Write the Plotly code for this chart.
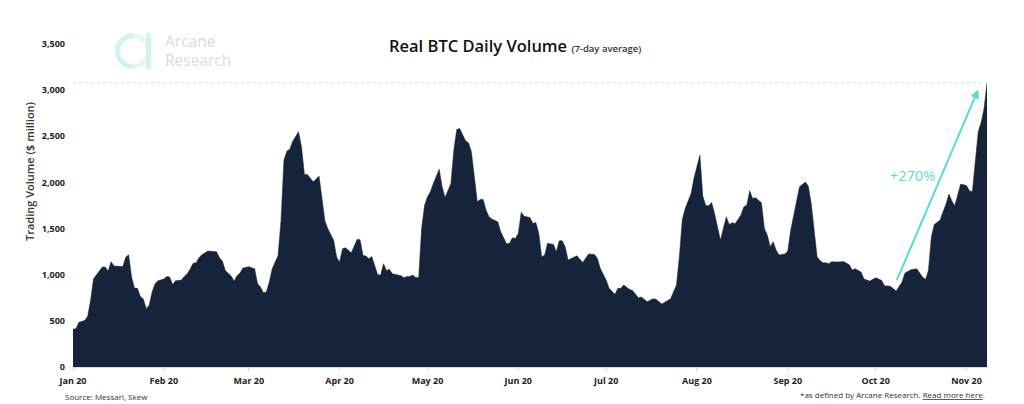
import pandas as pd
import plotly.graph_objects as go

# days since 1 Jan 2020 and volume, row by row
days = [0,1,2,4,5,6,7,8,9,10,
        11,12,13,14,16,17,18,19,20,21,
        22,23,24,25,26,27,28,29,31,32,
        33,34,35,37,38,39,40,41,42,43,
        44,46,49,50,51,52,54,55,56,57,
        58,60,62,63,64,65,66,67,68,70,
        71,72,73,74,75,77,78,79,80,82,
        84,85,86,87,89,90,91,92,93,95,
        97,98,99,100,101,102,103,104,105,106,
        107,108,109,111,112,113,114,115,116,117,
        118,119,120,121,122,123,125,126,127,129,
        130,131,132,134,135,136,137,138,139,140,
        141,142,143,145,146,148,149,150,151,152,
        153,154,156,157,158,159,160,161,162,164,
        165,166,167,168,169,170,172,174,176,178,
        179,180,182,183,185,186,187,188,190,191,
        193,194,196,198,199,201,202,204,205,206,
        207,208,209,210,211,212,214,215,216,217,
        218,219,221,223,224,225,226,227,228,229,
        230,231,232,233,235,236,237,238,239,240,
        241,243,244,245,247,248,250,251,252,253,
        254,255,256,257,258,259,261,263,265,266,
        267,269,270,272,274,276,277,279,281,283,
        284,286,288,290,291,292,293,294,296,297,
        298,299,300,301,303,305,306,307,308,309,
        310,311,312]
volume = [411,415,484,505,550,722,957,1004,1040,1083,
          1083,1040,1140,1094,1094,1090,1190,1216,975,855,
          852,765,736,632,668,812,902,935,953,982,
          975,895,935,942,982,1010,1061,1123,1130,1184,
          1216,1256,1250,1184,1148,1047,985,931,989,1018,
          1072,1087,1065,902,866,805,812,920,1065,1209,
          1588,2240,2339,2360,2447,2548,2386,2086,2086,2007,
          2068,1808,1581,1498,1372,1190,1137,1282,1292,1238,
          1383,1379,1209,1202,1173,1198,1101,1000,996,1119,
          1047,1058,1011,993,989,967,982,982,996,971,
          971,1500,1750,1845,1899,1989,2144,1953,1837,1989,
          2350,2574,2585,2451,2430,2332,2025,1790,1816,1816,
          1700,1628,1603,1573,1465,1335,1340,1400,1393,1446,
          1677,1633,1619,1555,1566,1446,1194,1213,1342,1328,
          1249,1368,1368,1303,1159,1177,1206,1133,1224,1220,
          1177,1068,942,852,787,852,852,888,841,830,
          751,758,707,740,733,682,704,740,816,888,
          1200,1600,1720,1800,1880,2050,2296,1850,1750,1747,
          1783,1664,1375,1628,1545,1563,1552,1599,1646,1736,
          1754,1910,1827,1834,1780,1502,1430,1303,1357,1267,
          1213,1224,1256,1484,1773,1953,2004,1960,1773,1484,
          1195,1155,1130,1130,1120,1141,1137,1144,1108,1050,
          1065,1029,953,931,967,939,881,874,823,920,
          1018,1054,1065,975,949,1047,1408,1545,1592,1682,
          1765,1874,1800,1747,1982,1967,1910,1899,2206,2549,
          2650,2800,3079]
tick_dates = ["2020-01-01","2020-02-01","2020-03-01","2020-04-01","2020-05-01","2020-06-01","2020-07-01","2020-08-01","2020-09-01","2020-10-01","2020-11-01"]
tick_labels = ["Jan 20","Feb 20","Mar 20","Apr 20","May 20","Jun 20","Jul 20","Aug 20","Sep 20","Oct 20","Nov 20"]
y_ticks = [0,500,1000,1500,2000,2500,3000,3500]

navy = "#15243a"
teal = "#56dbd2"
font = "Open Sans"
# the page body has an 8px margin, so the figure is 8px smaller and shifted
W, H = 1016, 396
L, R, T, B = 73, 987, 44, 367

dates = pd.Timestamp("2020-01-01") + pd.to_timedelta(days, unit="D")

def px(x):
    return (x - L) / (R - L)

def py(y):
    return (B - y) / (B - T)

fig = go.Figure()
fig.add_trace(go.Scatter(x=dates, y=volume, mode="lines", fill="tozeroy",
                         fillcolor=navy, line=dict(color=navy, width=0.5)))
# dotted line at the latest peak
fig.add_trace(go.Scatter(x=[dates[0], dates[-1]], y=[max(volume), max(volume)], mode="lines",
                         line=dict(color="#a5ebe6", width=1, dash="dot")))

notes = [
    dict(x=px(515), y=py(46), text="<span style='font-weight:600'>Real BTC Daily Volume</span> <span style='font-size:9.5px;color:#333;font-weight:600'>(7-day average)</span>",
         font=dict(size=16.5, color="#111")),
    dict(x=px(106.5), y=py(396), text="Source: Messari, Skew", font=dict(size=8, color="#333")),
    dict(x=px(892), y=py(394.5), text="*as defined by Arcane Research. <u>Read more here</u>.", font=dict(size=8, color="#333")),
    dict(x=px(163), y=py(41), xanchor="left", text="Arcane", font=dict(size=15.5, color="#d9dce1")),
    dict(x=px(163), y=py(60), xanchor="left", text="Research", font=dict(size=15.5, color="#d9dce1")),
    dict(x=px(29), y=py(171), text="<span style='font-weight:600'>Trading Volume ($ million)</span>", textangle=-90, font=dict(size=11, color="#333")),
    dict(x=px(912), y=py(176), text="+270%", font=dict(size=14.5, color=teal)),
]
annotations = [dict(dict(xanchor="center", yanchor="middle"), xref="paper", yref="paper", showarrow=False, **n) for n in notes]
annotations.append(dict(x="2020-11-05", y=3007, ax="2020-10-08", ay=924, xref="x", yref="y", axref="x", ayref="y",
                        text="", showarrow=True, arrowhead=2, arrowsize=0.9, arrowwidth=2, arrowcolor=teal))

# logo: ring and bar
shapes = [
    dict(type="circle", xref="paper", yref="paper", x0=px(117.5), x1=px(148.5), y0=py(66.5), y1=py(35.5),
         line=dict(color="#e6f8f6", width=5)),
    dict(type="path", xref="paper", yref="paper",
         path=f"M {px(133)} {py(35.5)} C {px(124.5)} {py(35.5)} {px(117.5)} {py(42.5)} {px(117.5)} {py(51)} C {px(117.5)} {py(59.5)} {px(124.5)} {py(66.5)} {px(133)} {py(66.5)}",
         line=dict(color="#d2f3f0", width=5)),
    dict(type="rect", xref="paper", yref="paper", x0=px(146), x1=px(151), y0=py(69), y1=py(33),
         fillcolor="#d2f3f0", line=dict(width=0)),
]

fig.update_layout(
    width=W, height=H,
    margin=dict(l=L - 8, r=W - (R - 8), t=T - 8, b=H - (B - 8), pad=0),
    paper_bgcolor="white", plot_bgcolor="white",
    showlegend=False, hovermode=False,
    font=dict(family=font, color="#222"),
    annotations=annotations, shapes=shapes,
    xaxis=dict(range=[dates[0], dates[-1]], tickvals=tick_dates, ticktext=tick_labels,
               showgrid=False, zeroline=False, showline=True, linecolor="#d9d9d9", linewidth=1,
               ticks="outside", ticklen=3, tickcolor="#d9d9d9", ticklabelstandoff=2,
               tickfont=dict(size=9, family=font, weight=700, color="#222")),
    yaxis=dict(range=[0, 3500], tickvals=y_ticks, tickformat=",", showgrid=False, zeroline=False,
               showline=False, ticks="", ticklabelstandoff=7,
               tickfont=dict(size=9, family=font, weight=700, color="#222")),
)

fig.write_html("out.html")
